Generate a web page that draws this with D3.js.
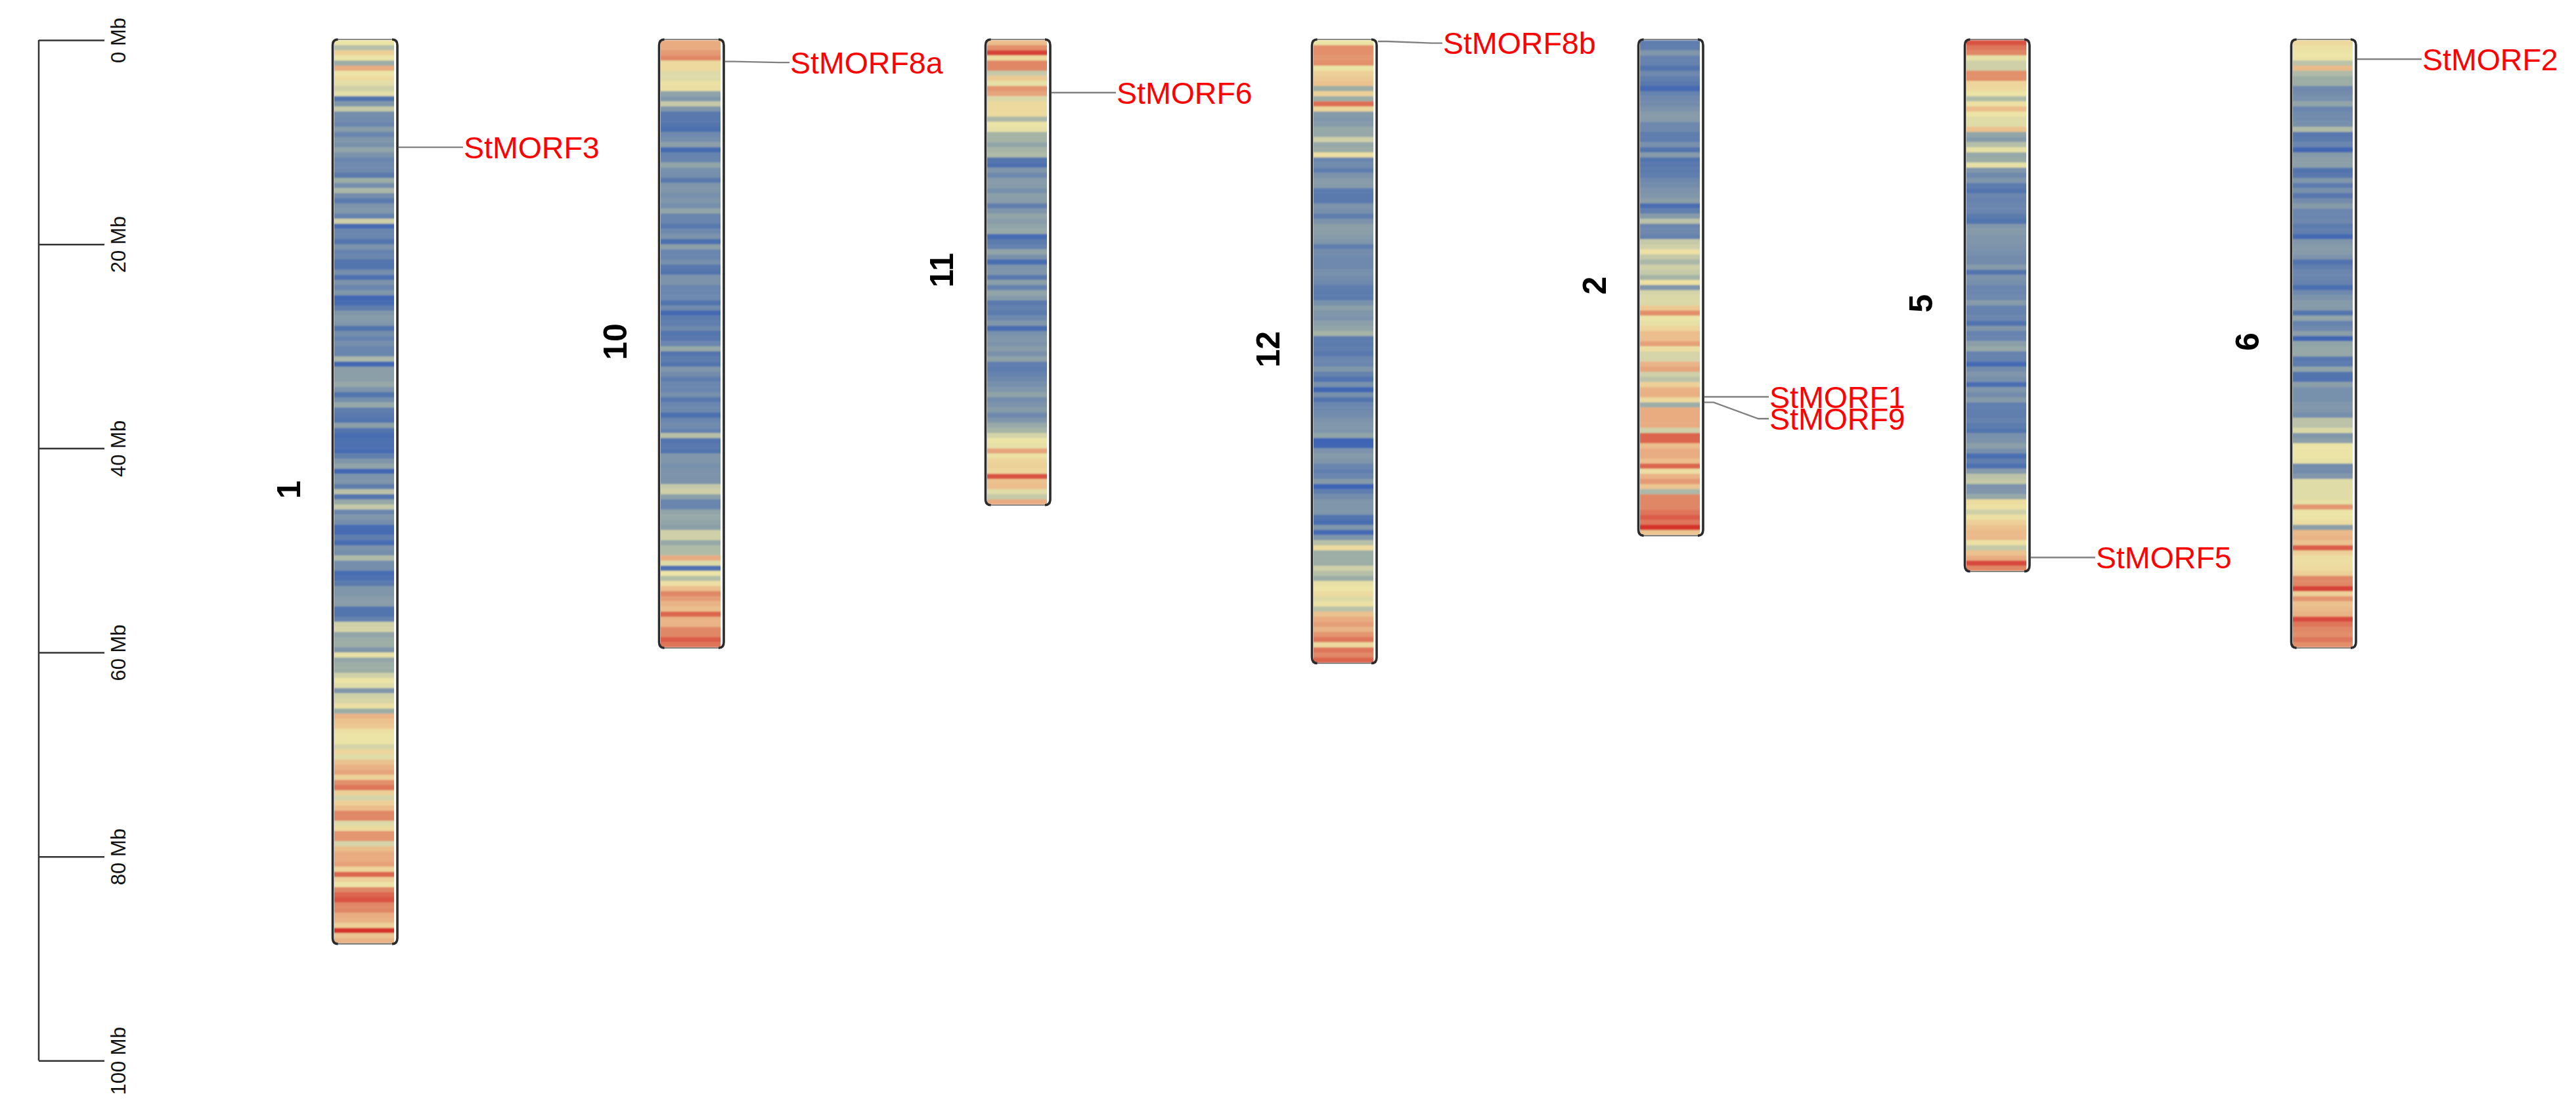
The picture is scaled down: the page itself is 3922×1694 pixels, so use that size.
<!DOCTYPE html>
<html>
<head>
<meta charset="utf-8">
<script src="https://cdnjs.cloudflare.com/ajax/libs/d3/7.8.5/d3.min.js"></script>
<style>html,body{margin:0;padding:0;background:#fff}svg{display:block}text{font-family:"Liberation Sans",Arial,sans-serif}</style>
</head>
<body>
<svg id="chart" width="3922" height="1694"></svg>
<script>
// gene-density level per 0.5 Mb bin (0 = sparse/blue, 10 = dense/red)
const chr1 = [6,4.5,7,6,4,8,6,6.5,5.7,5,5.7,1,3,4.8,2.5,2.3,2,3.3,2,3,2.7,3.6,2.8,2,2.2,2.2,1.3,4,2.5,4.3,2.5,1.3,2.8,3,1.8,5,0.5,2,2,1,2.8,1.8,2,1,1,2.5,0.8,2.8,2,3,0.3,0.5,1.5,3,3.2,3,1,2.5,1.8,
2.5,2,2,4.3,0.3,3.4,3.4,3.4,3.8,2.8,1,2.5,3.8,1.5,1.3,1,3.4,1,0.6,0.8,0.8,0.5,1.6,3,3.6,0.3,2.8,3,1.5,4.6,1,3.8,4.8,2,3,2.5,0.5,0.5,1.5,0.5,2.8,2.5,4.4,2.5,2.5,0.5,0.8,1.3,3,3,3.3,3.3,1,1,1.8,5,5.2,3.6,4,4,3,5.8,
3.7,4,4,5,6,5.6,3,5,5.3,6.2,4,7.8,7.4,7.2,6.2,6,6,5.2,6.7,5.6,7.4,7.8,8.2,7,8.8,9.2,7,5.2,7,7.5,9,9,5.5,6.5,8.6,8.6,5.2,7.5,8,8,8.3,6.8,9.4,7,6,9,9.4,9.6,9,9,8,7.8,7,10,7.3,7.8];
const chr10 = [8,8,8.5,9,6.6,6.6,5.5,5.5,6.2,6.3,3.5,3,4.8,3,1.2,1.2,1,0.8,2.2,2.5,3.4,0.5,1.8,2,3.6,2.6,2.5,1.3,3,3,2.6,3,2.5,3.6,2,2,1.2,2.2,2.8,0.8,3.4,2,2,2.6,1.2,1,2.8,2.8,2,2,2.2,1,2.3,0.4,1.4,1.5,2.2,1,1.2,2,3.8,1,1.4,1,3,2.4,1.6,2,2,2.6,1.2,2,2.2,0.8,2,2.3,1.8,4.5,1,1.2,1,3,3,2.6,2.8,2.8,2.8,4.8,5,3.4,2,2,3.6,3.8,3.6,3.4,5,5,3.8,4.4,4.4,8,5.5,0.8,6,4.5,6.3,7.5,9,8.4,7.8,7.5,9.4,7.8,7.8,9,9,9.5,9.2];
const chr11 = [7.5,8.8,9.8,6.5,9,9,4.8,7.2,5.8,8.6,8.2,5.4,6.6,6.6,6.5,4.3,6,5.8,4.2,4.2,3.6,4.2,4.4,1,0.8,3,2.2,3.2,3.2,2.6,3.4,3.3,1.6,3,3.6,3.3,3.6,3.8,0.5,1.4,1.8,3.6,2.7,0.6,2.8,3,1.3,3.4,1.8,3.6,3.2,1.3,1.7,1.4,2.2,3,0.6,2.6,3,2.8,3.3,2.7,3.5,1.6,1.4,1.8,2.2,2.6,3,3.5,2.4,2.8,3.2,2.2,3,3.8,4.2,5.2,6,5.8,8.2,6.2,6.8,7,6.8,9.6,7.4,7.5,5.6,4.8,8];
const chr12 = [6,8.8,8.8,8.6,8.8,6,7,7.2,7.4,4,7,4,9.3,6.8,3.2,3,3.2,3.8,3.8,5,3.8,4,6.3,2,2.3,1.6,2.8,3.2,3.2,1.4,1.3,1.3,2.8,2.6,1.5,2.8,3.4,3.4,3.2,3,1.6,2.4,2.2,2.2,2.2,2.6,2.4,2.2,1.5,1.4,1.4,2.6,3.4,3,2.8,3.4,3.6,4.2,1.4,1.4,1.6,1.2,2,2,3,1.8,0.9,2.6,0.2,2.6,1,2,2.2,2.4,2.8,3,3,3.6,0.1,0.2,2.8,3.2,3,2,1.6,2,3.2,0.1,1.6,2.4,3,3,3,1,0.6,3,0.4,3,4.5,6.5,4,4,4,5,4.5,4,5.8,6,6.5,5.5,6.2,4.6,7.4,8,8.4,7.8,8.6,9.2,6.5,9.2,9,9.4];
const chr2 = [1.5,1.6,3,1.8,1.8,1,2.2,1.6,1.2,0.4,1.8,2.2,2.4,2.8,3.2,3.2,2.2,2.2,1.5,1.5,2.6,1,3.2,1,1.2,1.4,1.6,2.2,2.4,2.8,3,3.4,0.6,1.6,3.2,4.6,2,2.2,1.8,4.8,5,6.2,4.8,4.3,5,4.8,4.2,6.2,3,5.2,5.4,5.4,7.2,8.8,6,5.8,6.8,7.5,7.5,
8.3,6.3,5.2,5.2,7.8,8.2,5,4.6,7,7.8,7.9,6.6,4,8,8,8,8,5,9.4,9.4,7.5,8,8,7.5,9.4,6.3,7.8,8.5,7.3,4.3,9,9,9,9.2,9.5,9.2,10,7.3];
const chr5 = [9.6,9.2,9,5.8,5,5,8.8,8.8,6.8,6.6,6,4.4,6.2,7.5,6,5.6,5.6,7.4,3.6,3.2,4.5,5.8,3.8,4,5.8,3,2.2,3,1.4,1,2,1.8,2,2,1.4,1,3,3.2,3,3,2.8,2.6,2.4,2.4,3.2,1,2.8,2.6,2,2,2.2,3.2,1.8,1.8,2,0.9,3,1.8,2,3.4,3.8,1.8,1.8,0.4,2.4,3,2.6,0.6,3,2.4,3.2,1.6,1.6,1.6,1.8,1.4,1,2.6,2.8,3.4,2.6,0.6,1.6,0.8,3.2,4.6,4.8,2.8,3,3.8,6.4,6.2,5,6.2,7,7.4,7.6,7.6,6.2,4.8,7.4,8,9.7,9];
const chr6 = [6.6,6.2,6,6,4.6,7.6,4.4,4,4,2.2,2.4,2.6,3.6,2,2.3,2.3,2.6,4.4,1.2,1.4,2,0.3,3.2,3.4,3.4,1,1.2,3,1.4,2.6,1.2,2.4,3.2,2,2,2.2,1.4,1.6,0.4,3,3.2,3.2,2.8,0.9,1.6,2,2,1.8,0.7,2.2,2.8,3.2,3.2,1,3.6,1.8,2.2,3.4,0.3,3.6,3.8,3.8,1.2,1.4,3.6,1,0.9,3.4,2.6,2.6,2.6,3,3,2.5,4.6,4.6,5.4,3,3.4,6,6,6,5.8,2.4,2.4,3,5.6,5.6,5.6,5.6,5.8,8.6,6,6,6.4,3.4,7.6,7.8,7.4,9.5,7,6.3,6.3,6.5,7,9,9,9.8,7,8.6,7.4,7.6,7.8,9.7,9.2,9,8.8,9.2,8.8];

const chromNames = ["1","10","11","12","2","5","6"];
const chromBins = [chr1,chr10,chr11,chr12,chr2,chr5,chr6];
const binMb = 0.5;

const axisTicks = [0,20,40,60,80,100];

const geneNames  = ["StMORF3","StMORF8a","StMORF6","StMORF8b","StMORF1","StMORF9","StMORF5","StMORF2"];
const geneChroms = ["1","10","11","12","2","2","5","6"];
const geneMb     = [10.5,2.1,5.15,0.13,34.96,35.5,50.7,1.87];
const labelMb    = [10.5,2.2,5.15,0.3,34.96,37.1,50.7,1.87];

const rampLevels = [0,1,2,3,4,5,6,7,8,9,10];
const rampColors = ["#3a62b6","#5375ae","#6a86ae","#8096aa","#9cada6","#cfd0a8","#ece4a6","#edd097","#e8ac80","#e08866","#d5302b"];

const svg = d3.select("#chart");
const y = d3.scaleLinear().domain([0,100]).range([61,1614.3]);
const x = d3.scaleBand().domain(chromNames).range([509,509+497*chromNames.length]);
const color = d3.scaleLinear().domain(rampLevels).range(rampColors);
const barW = 91;

// scale axis
const axis = svg.append("g").attr("transform","translate(59,0)")
  .call(d3.axisRight(y).tickValues(axisTicks).tickSize(100).tickFormat(d=>d+" Mb"));
axis.select(".domain").attr("stroke","#333").attr("stroke-width",2.5).attr("d",`M0,${y(0)}V${y(100)}`);
axis.selectAll(".tick line").attr("stroke","#333").attr("stroke-width",2.5);
axis.selectAll(".tick text")
  .attr("transform","translate(132,0) rotate(-90)")
  .attr("x",0).attr("y",0).attr("dy",0)
  .attr("text-anchor","middle")
  .attr("font-family",'"Liberation Sans",Arial,sans-serif')
  .attr("font-size",31).attr("fill","#111");

// chromosomes
const defs = svg.append("defs");
defs.append("filter").attr("id","soft").attr("x","-5%").attr("y","-2%").attr("width","110%").attr("height","104%")
  .append("feGaussianBlur").attr("stdDeviation","0 1.1");
chromNames.forEach((name,i)=>{
  const bins = chromBins[i];
  const L = x(name), top = y(0), bot = y(bins.length*binMb);
  const clipId = "clip"+i;
  defs.append("clipPath").attr("id",clipId).append("rect")
    .attr("x",L-3).attr("y",top-1).attr("width",barW+8).attr("height",bot-top+2).attr("rx",9);
  const g = svg.append("g");
  const inner = g.append("g").attr("clip-path",`url(#${clipId})`).append("g").attr("filter","url(#soft)");
  inner.selectAll("rect").data(bins).join("rect")
    .attr("x",L).attr("width",barW)
    .attr("y",(d,k)=>y(k*binMb)).attr("height",y(binMb)-y(0)+0.4)
    .attr("fill",d=>color(d));
  g.append("rect").attr("x",L-2.5).attr("y",top-1).attr("width",barW+7.5).attr("height",bot-top+2).attr("rx",9)
    .attr("fill","none").attr("stroke","#666").attr("stroke-width",1.6);
  const sides = d3.path();
  const l = L-2.5, r = L+barW+5;
  sides.moveTo(l+8,top-1); sides.quadraticCurveTo(l,top-1,l,top+8); sides.lineTo(l,bot-8); sides.quadraticCurveTo(l,bot+1,l+8,bot+1);
  sides.moveTo(r-8,top-1); sides.quadraticCurveTo(r,top-1,r,top+8); sides.lineTo(r,bot-8); sides.quadraticCurveTo(r,bot+1,r-8,bot+1);
  g.append("path").attr("d",sides.toString()).attr("fill","none").attr("stroke","#2b2b2b").attr("stroke-width",3.6);
  svg.append("text")
    .attr("transform",`translate(${L-70+18},${(top+bot)/2-3}) rotate(-90)`)
    .attr("text-anchor","middle").attr("font-weight","bold").attr("font-size",50).attr("fill","#000")
    .text(name);
});

// gene labels
const leader = d3.line().x(d=>d[0]).y(d=>d[1]);
geneNames.forEach((g,i)=>{
  const R = x(geneChroms[i])+barW+7;
  const y0 = y(geneMb[i]), y1 = y(labelMb[i]);
  svg.append("path")
    .attr("d",leader([[R,y0],[R+14,y0],[R+82,y1],[R+98,y1]]))
    .attr("fill","none").attr("stroke","#808080").attr("stroke-width",2.4);
  svg.append("text")
    .attr("x",R+99).attr("y",y1).attr("dy","0.36em")
    .attr("font-size",46.5).attr("fill","#ff0000").text(g);
});
</script>
</body>
</html>
